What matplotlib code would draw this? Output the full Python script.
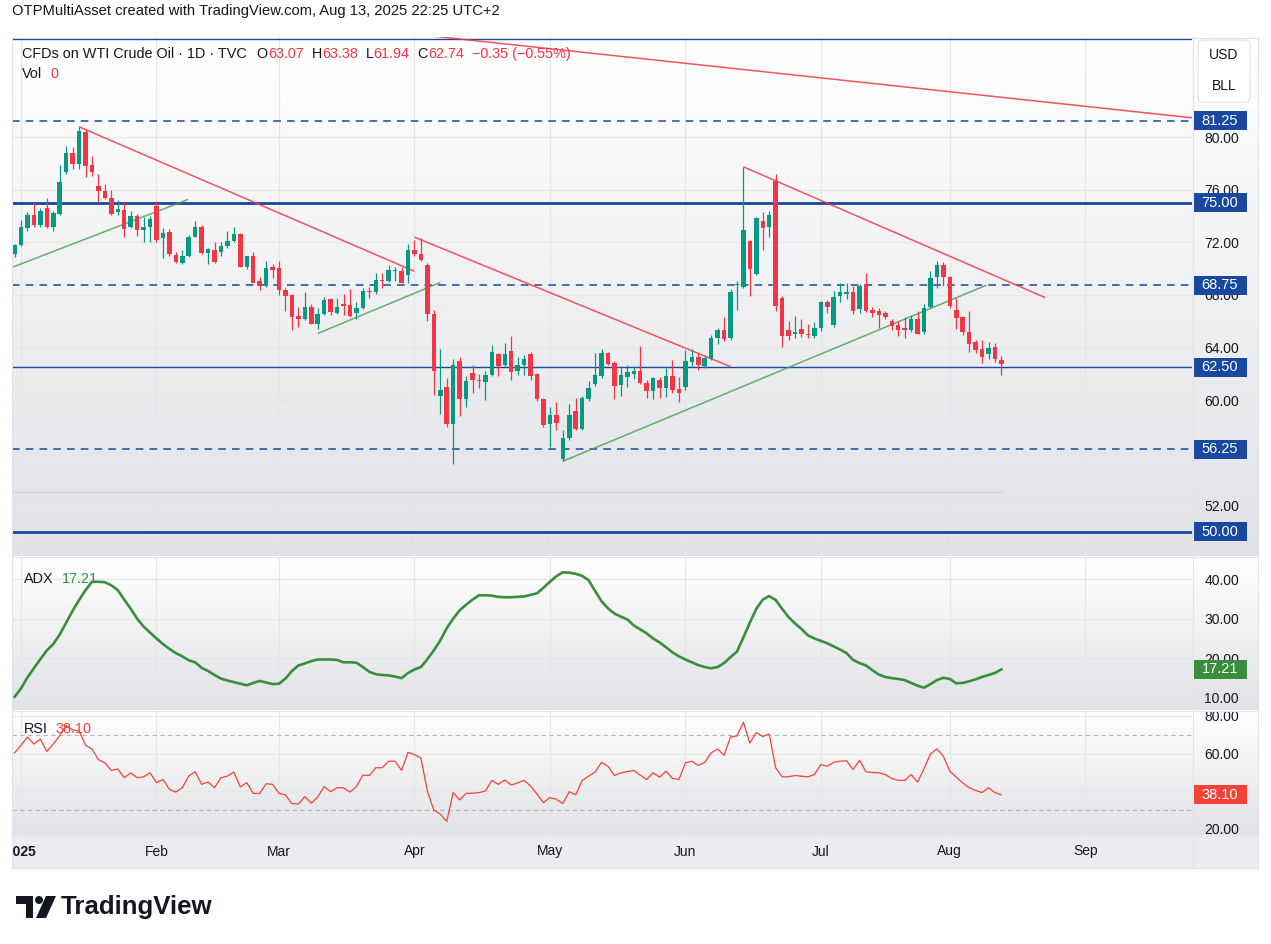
import numpy as np
import matplotlib
matplotlib.use("Agg")
import matplotlib.pyplot as plt
from matplotlib.colors import LinearSegmentedColormap
from matplotlib.patches import Rectangle, FancyBboxPatch, Circle, Polygon
from matplotlib.lines import Line2D
from matplotlib.transforms import Affine2D

plt.rcParams['font.family'] = ['Liberation Sans', 'DejaVu Sans']

# daily bars, Dec 31 2024 .. Aug 13 2025 (bar -1 is Dec 31)
opens = [71.1, 71.8, 73.1, 74.1, 73.3, 74.6, 73.2, 74.2, 77.35, 78.8, 78.0, 80.4, 77.9, 76.3, 75.9, 75.4,
         74.3, 74.5, 73.15, 74.0, 72.95, 73.15, 74.8, 72.3, 72.8, 71.05, 70.45, 71.0, 72.45, 73.2, 71.2,
         71.4, 71.25, 71.7, 72.1, 72.65, 70.1, 70.95, 69.1, 68.65, 70.15, 70.05, 68.4, 68.0, 66.4, 66.2,
         67.1, 65.8, 66.55, 67.7, 66.6, 67.3, 67.25, 66.6, 67.0, 68.3, 68.25, 69.15, 69.1, 69.8, 69.85,
         69.55, 71.4, 71.1, 70.25, 66.55, 60.35, 61.0, 58.2, 62.95, 60.1, 62.1, 61.55, 61.4, 61.9, 63.5,
         62.7, 63.75, 62.25, 62.7, 63.5, 61.97, 60.1, 58.2, 58.9, 55.55, 57.1, 59.15, 57.8, 60.05, 61.25,
         61.85, 63.55, 62.85, 61.15, 61.75, 62.0, 62.2, 61.3, 60.7, 61.5, 60.95, 61.8, 60.85, 61.0, 62.9,
         63.3, 62.6, 63.1, 64.75, 65.35, 64.7, 68.75, 68.6, 72.1, 69.6, 73.6, 73.15, 76.7, 67.75, 65.3,
         65.0, 65.45, 65.0, 64.85, 65.5, 67.45, 65.7, 67.9, 68.05, 68.25, 66.9, 68.8, 66.85, 66.8, 66.65,
         66.0, 65.7, 65.5, 65.35, 66.15, 65.15, 67.1, 69.35, 70.3, 69.4, 66.85, 66.3, 65.2, 64.4, 63.9,
         63.5, 64.05, 63.07]
highs = [71.9, 73.7, 74.35, 75.0, 74.6, 75.4, 74.4, 77.9, 79.3, 79.25, 80.8, 80.65, 78.6, 77.2, 76.45, 76.0,
         75.25, 75.1, 74.4, 74.2, 73.9, 74.0, 75.15, 73.1, 73.0, 71.3, 71.4, 72.6, 73.65, 73.3, 71.6,
         72.05, 72.05, 72.9, 73.15, 72.75, 71.0, 71.3, 69.4, 70.55, 70.35, 70.6, 68.5, 68.1, 67.1, 68.25,
         67.3, 67.0, 67.85, 67.8, 67.8, 68.05, 68.45, 67.5, 68.55, 68.6, 69.7, 69.65, 70.3, 70.1, 70.1,
         71.85, 72.15, 72.3, 70.4, 66.85, 63.9, 61.7, 63.1, 63.3, 61.85, 62.65, 62.0, 62.25, 64.2, 63.6,
         64.35, 64.85, 63.25, 63.45, 63.66, 62.1, 60.2, 59.45, 59.85, 57.7, 59.7, 60.2, 60.3, 61.45, 63.55,
         63.9, 63.7, 62.95, 62.6, 62.7, 62.6, 64.1, 61.5, 61.75, 61.75, 62.45, 63.05, 61.75, 63.8, 63.9,
         63.6, 63.4, 64.95, 65.5, 66.3, 68.45, 69.05, 77.75, 72.2, 73.95, 74.3, 74.4, 77.2, 67.9, 66.05,
         66.4, 66.15, 65.8, 65.95, 67.55, 67.6, 68.3, 68.9, 68.95, 68.65, 68.8, 69.65, 67.1, 67.0, 66.8,
         66.2, 66.0, 66.3, 66.5, 66.8, 67.3, 69.8, 70.55, 70.5, 69.45, 67.75, 66.4, 66.8, 64.6, 64.55,
         64.45, 64.35, 63.38]
lows = [70.9, 71.7, 72.9, 73.2, 73.2, 73.1, 72.9, 74.1, 77.2, 77.6, 77.6, 77.0, 77.05, 75.1, 75.3, 74.1,
        74.1, 72.45, 73.1, 72.5, 72.05, 72.0, 72.05, 70.8, 71.0, 70.4, 70.35, 70.9, 72.4, 71.1, 70.35,
        70.4, 70.95, 71.6, 72.0, 70.1, 70.0, 68.9, 68.4, 68.6, 69.3, 68.0, 66.8, 65.3, 65.6, 66.1,
        65.8, 65.45, 66.5, 66.5, 66.55, 66.45, 66.3, 66.15, 66.9, 67.75, 68.05, 68.55, 69.0, 69.1, 68.9,
        68.95, 71.0, 70.55, 66.0, 60.4, 58.95, 57.95, 55.15, 58.8, 59.5, 60.55, 60.95, 60.0, 61.8, 61.8,
        62.6, 61.5, 61.9, 61.9, 61.5, 59.95, 57.95, 56.4, 57.7, 55.4, 57.0, 57.7, 57.7, 59.9, 61.05,
        61.7, 62.65, 60.1, 60.3, 61.0, 61.6, 61.2, 60.2, 60.1, 60.2, 60.25, 60.55, 59.85, 60.8, 62.5,
        62.3, 62.45, 63.05, 64.25, 64.5, 64.6, 66.85, 68.5, 67.95, 69.5, 71.4, 72.45, 66.75, 64.05, 64.6,
        64.75, 64.8, 64.7, 64.7, 65.25, 66.65, 65.55, 67.45, 67.7, 66.55, 66.6, 66.7, 66.3, 65.5, 66.2,
        65.3, 64.9, 64.75, 65.2, 65.0, 65.0, 67.0, 68.5, 68.65, 67.0, 65.4, 64.95, 63.65, 63.6, 62.8,
        63.1, 62.9, 61.94]
closes = [71.8, 73.15, 74.05, 73.35, 74.4, 73.2, 74.25, 76.6, 78.8, 78.0, 80.5, 77.85, 77.35, 75.9, 75.4, 74.2,
          74.55, 73.0, 74.0, 72.95, 73.2, 73.8, 72.2, 72.7, 71.1, 70.5, 71.0, 72.45, 73.2, 71.2, 71.5,
          70.5, 71.75, 72.1, 72.65, 70.15, 70.95, 68.95, 68.7, 70.05, 69.9, 68.4, 67.95, 66.3, 66.15, 67.05,
          65.8, 66.55, 67.65, 66.7, 67.1, 67.2, 66.4, 67.0, 68.3, 68.2, 69.15, 69.05, 69.9, 69.85, 68.95,
          71.4, 71.1, 70.65, 66.55, 62.25, 60.8, 58.15, 62.7, 60.1, 61.45, 61.5, 61.45, 61.9, 63.65, 62.6,
          63.5, 62.15, 62.7, 63.1, 61.8, 60.05, 58.1, 58.9, 58.25, 57.1, 58.9, 57.8, 60.2, 60.95, 61.9,
          63.55, 62.75, 61.05, 61.9, 62.15, 62.2, 61.3, 60.7, 61.65, 60.95, 61.8, 60.75, 60.55, 62.95, 63.3,
          62.65, 63.2, 64.75, 65.35, 64.65, 68.25, 68.8, 72.95, 70.0, 73.85, 73.1, 74.05, 67.2, 64.9, 64.85,
          65.2, 65.0, 64.95, 65.5, 67.5, 67.05, 67.85, 68.2, 68.25, 66.8, 68.7, 66.75, 66.6, 66.5, 66.35,
          65.65, 65.35, 65.35, 66.15, 65.05, 67.0, 69.3, 70.3, 69.35, 67.2, 66.25, 65.15, 64.25, 63.8, 63.3,
          63.95, 63.1, 62.74]
adx = [10.3, 12.4, 15.2, 17.5, 19.8, 22.0, 23.6, 26.0, 29.0, 32.0, 34.7, 37.2, 39.3, 39.3, 39.2, 38.4,
       37.2, 34.8, 32.5, 30.0, 28.0, 26.5, 25.0, 23.6, 22.4, 21.3, 20.5, 19.5, 19.0, 17.6, 16.8, 15.8,
       14.9, 14.4, 14.0, 13.6, 13.2, 13.8, 14.3, 13.9, 13.5, 13.6, 14.9, 16.8, 18.2, 18.7, 19.3, 19.7,
       19.7, 19.7, 19.6, 19.0, 19.0, 18.9, 17.8, 16.6, 16.0, 15.8, 15.7, 15.4, 15.0, 16.3, 17.2, 17.8,
       19.8, 22.0, 24.5, 27.6, 30.0, 32.1, 33.5, 34.8, 35.9, 35.9, 35.8, 35.5, 35.4, 35.4, 35.5, 35.6,
       36.0, 36.4, 37.8, 39.3, 40.7, 41.7, 41.6, 41.3, 40.8, 39.7, 37.0, 34.4, 32.6, 31.3, 30.5, 29.8,
       28.3, 27.3, 26.3, 25.0, 24.0, 22.8, 21.5, 20.5, 19.7, 19.0, 18.3, 17.8, 17.5, 17.8, 18.8, 20.3,
       21.7, 25.3, 29.0, 32.5, 34.8, 35.7, 34.7, 32.5, 30.4, 28.8, 27.4, 25.8, 25.0, 24.4, 23.8, 23.0,
       22.2, 21.3, 19.6, 18.8, 18.2, 17.0, 15.9, 15.3, 15.0, 14.8, 14.5, 13.8, 13.1, 12.6, 13.5, 14.5,
       15.1, 14.8, 13.7, 13.8, 14.2, 14.7, 15.3, 15.8, 16.3, 17.21]
rsi = [60.4, 64.5, 68.8, 65.1, 67.7, 61.2, 65.1, 69.6, 74.9, 72.6, 72.1, 64.4, 62.5, 56.8, 55.1, 51.1,
       51.9, 47.2, 49.8, 47.2, 47.7, 49.8, 44.6, 46.3, 41.1, 39.6, 41.9, 48.1, 50.4, 43.7, 44.9, 41.9,
       47.2, 48.1, 50.2, 42.3, 44.6, 38.9, 38.8, 44.0, 43.7, 38.9, 38.1, 33.5, 33.2, 37.2, 33.7, 37.0,
       42.5, 39.8, 41.9, 41.9, 39.6, 42.5, 48.6, 48.4, 52.5, 52.5, 56.0, 56.0, 51.1, 60.7, 59.5, 57.7,
       40.2, 30.0, 27.9, 24.0, 39.3, 35.4, 38.9, 39.0, 39.3, 40.2, 45.8, 43.7, 46.0, 43.3, 44.5, 45.8,
       42.8, 38.5, 34.0, 36.7, 35.8, 33.5, 39.8, 38.1, 45.8, 48.0, 50.2, 55.4, 53.3, 48.4, 49.8, 50.5,
       51.1, 48.6, 46.3, 49.8, 47.5, 50.7, 46.8, 46.3, 55.1, 56.0, 53.7, 55.4, 60.4, 62.5, 59.1, 68.8,
       69.5, 76.7, 65.6, 71.2, 69.1, 70.4, 52.5, 47.7, 47.7, 48.4, 48.0, 47.7, 48.9, 54.2, 53.3, 55.4,
       56.0, 56.2, 51.6, 56.5, 50.4, 50.0, 49.8, 48.9, 46.8, 45.8, 45.8, 48.9, 44.9, 52.0, 59.8, 62.6,
       58.6, 50.7, 47.5, 44.5, 41.9, 40.5, 39.3, 41.9, 39.3, 38.1]

month_labels = ['2025', 'Feb', 'Mar', 'Apr', 'May', 'Jun', 'Jul', 'Aug', 'Sep']
month_bars = [0, 21, 40, 61, 82, 103, 124, 144, 165]

levels = [87.5, 81.25, 75.0, 68.75, 62.5, 56.25, 50.0]
level_kind = ['thin', 'dash', 'thick', 'dash', 'thin', 'dash', 'thick']
support_dotted = 53.0

# trend lines as (bar, price) pairs
red_lines = [[(60, 87.9), (185, 81.3)],
             [(9, 80.8), (61, 69.8)],
             [(61, 72.4), (110, 62.55)],
             [(112, 77.75), (158.8, 67.8)]]
green_lines = [[(-1.4, 70.1), (25.9, 75.27)],
               [(46, 65.07), (65, 68.95)],
               [(84, 55.35), (149.7, 68.75)]]

main_grid = [52, 56, 60, 64, 68, 72, 76, 80]
main_labels = [52, 60, 64, 68, 72, 76, 80]
adx_grid = [10, 20, 30, 40]
rsi_grid = [20, 40, 60, 80]
rsi_labels = [20, 60, 80]

UP = '#089981'
DOWN = '#f23645'
BLUE = '#1848a0'
TXT = '#131722'
GRID = '#e4e6eb'

W, H = 1271, 944
fig = plt.figure(figsize=(W / 100, H / 100), dpi=100)
px = Affine2D().scale(1 / W, -1 / H).translate(0, 1) + fig.transFigure


def rect(x0, y0, x1, y1):
    return [x0 / W, 1 - y1 / H, (x1 - x0) / W, (y1 - y0) / H]


grad = LinearSegmentedColormap.from_list('g', ['#ffffff', '#e1e2e6'])
for y0, y1 in [(37, 556), (557, 710), (711, 835)]:
    bg = fig.add_axes(rect(12, y0, 1258, y1), zorder=0)
    bg.imshow(np.linspace(0, 1, 256).reshape(-1, 1), cmap=grad, aspect='auto', extent=[0, 1, 0, 1])
    bg.axis('off')
bgx = fig.add_axes(rect(12, 835, 1258, 868), zorder=0)
bgx.set_facecolor('#ebecef')
bgx.set_xticks([])
bgx.set_yticks([])
for s in bgx.spines.values():
    s.set_visible(False)

xl = (-1.4, 181.55)
x = np.arange(len(opens)) - 1
o, h, l, c = map(np.array, (opens, highs, lows, closes))
cols = np.where(c >= o, UP, DOWN)

ax = fig.add_axes(rect(12, 37, 1192, 556), zorder=1)
ax_adx = fig.add_axes(rect(12, 557, 1192, 710), zorder=1)
ax_rsi = fig.add_axes(rect(12, 711, 1192, 835), zorder=1)
ax_x = fig.add_axes(rect(12, 835, 1192, 868), zorder=1)

for a in (ax, ax_adx, ax_rsi, ax_x):
    a.set_facecolor('none')
    a.set_xlim(*xl)
    for s in a.spines.values():
        s.set_visible(False)
    a.set_xticks([])

ax.set_ylim(48.14, 87.63)
ax_adx.set_ylim(6.97, 45.55)
ax_rsi.set_ylim(16.8, 82.65)

for a, grid, labs in ((ax, main_grid, main_labels), (ax_adx, adx_grid, adx_grid), (ax_rsi, rsi_grid, rsi_labels)):
    a.yaxis.tick_right()
    a.set_yticks(labs)
    a.set_yticklabels(['%.2f' % t for t in labs])
    a.tick_params(axis='y', length=0, pad=9, labelsize=10, labelcolor=TXT)
    for t in grid:
        a.axhline(t, color=GRID, lw=0.8, zorder=0.5)
    for m in month_bars:
        a.axvline(m, color=GRID, lw=0.8, zorder=0.5)

# levels
for lv, kind in zip(levels, level_kind):
    if kind == 'dash':
        ax.axhline(lv, color=BLUE, lw=1.1, ls=(0, (5, 4)), zorder=2)
    elif kind == 'thick':
        ax.axhline(lv, color=BLUE, lw=2.0, zorder=2)
    else:
        ax.axhline(lv, color=BLUE, lw=1.0, zorder=2)
ax.hlines(support_dotted, -1.4, 152.3, color='#b2b5be', lw=0.8, ls=(0, (1, 1.5)), zorder=2)

for seg in red_lines:
    (x0, y0), (x1, y1) = seg
    ax.plot([x0, x1], [y0, y1], color=DOWN, lw=1.1, alpha=0.85, zorder=3, solid_capstyle='butt')
for seg in green_lines:
    (x0, y0), (x1, y1) = seg
    ax.plot([x0, x1], [y0, y1], color='#43a047', lw=1.1, alpha=0.8, zorder=3, solid_capstyle='butt')

# candles
ax.vlines(x, l, h, color=cols, lw=0.9, zorder=4)
body = np.maximum(np.abs(c - o), 0.07)
ax.bar(x, body, bottom=np.minimum(o, c), width=0.7, color=cols, zorder=5, linewidth=0)

# indicators
ax_adx.plot(x, adx, color='#388e3c', lw=1.9, zorder=3, solid_joinstyle='round')
for lv in (70, 30):
    ax_rsi.axhline(lv, color='#b2b5be', lw=0.8, ls=(0, (4, 3)), zorder=1)
ax_rsi.plot(x, rsi, color='#f44336', lw=0.9, zorder=3)


def value_box(a, val, text, color, unit_px):
    hgt = 19 / unit_px
    tr = a.get_yaxis_transform()
    a.add_patch(Rectangle((1.0008, val - hgt / 2), 54 / 1180, hgt, transform=tr, facecolor=color,
                          edgecolor='none', clip_on=False, zorder=6))
    a.text(1.0008 + 27 / 1180, val, text, transform=tr, color='white', fontsize=10.5, ha='center',
           va='center', clip_on=False, zorder=7)


for lv in levels[1:]:
    value_box(ax, lv, '%.2f' % lv, BLUE, 13.15)
value_box(ax_adx, adx[-1], '%.2f' % adx[-1], '#388e3c', 3.967)
value_box(ax_rsi, rsi[-1], '%.2f' % rsi[-1], '#f44336', 1.883)

# month labels
ax_x.set_ylim(0, 1)
ax_x.set_yticks([])
for lab, m in zip(month_labels, month_bars):
    ax_x.text(m, 0.5, lab, ha='center', va='center', fontsize=10, color=TXT,
              fontweight='bold' if lab == '2025' else 'normal', clip_on=True)

# frame lines
for (x0, y0, x1, y1) in [(12, 556.5, 1258, 556.5), (12, 710.5, 1258, 710.5), (12, 835.5, 1258, 835.5),
                         (1192.5, 37, 1192.5, 868), (1258, 37, 1258, 868), (12, 868, 1258, 868),
                         (12, 37, 12, 868)]:
    fig.add_artist(Line2D([x0, x1], [y0, y1], transform=px, color='#e0e3eb', lw=0.8))
fig.add_artist(Line2D([1192, 1258], [37.5, 37.5], transform=px, color='#e0e3eb', lw=0.8))

# currency box
fig.add_artist(FancyBboxPatch((1198, 40), 52, 62, boxstyle='round,pad=0,rounding_size=5', transform=px,
                              facecolor='white', edgecolor='#e0e3eb', lw=0.8))
fig.text(1224 / W, 1 - 55 / H, 'USD', ha='center', va='center', fontsize=10, color=TXT)
fig.text(1224 / W, 1 - 86 / H, 'BLL', ha='center', va='center', fontsize=10, color=TXT)

renderer = fig.canvas.get_renderer()


def text_run(x0, y0, pieces, size=10):
    xx = x0
    for s, col, gap in pieces:
        t = fig.text(xx / W, 1 - y0 / H, s, color=col, fontsize=size, ha='left', va='center')
        xx += t.get_window_extent(renderer=renderer).width + gap


fig.text(12 / W, 1 - 11 / H, 'OTPMultiAsset created with TradingView.com, Aug 13, 2025 22:25 UTC+2',
         fontsize=10.6, color=TXT, ha='left', va='center')
text_run(22, 54, [('CFDs on WTI Crude Oil · 1D · TVC', TXT, 10), ('O', TXT, 0), ('%.2f' % opens[-1], DOWN, 8),
                  ('H', TXT, 0), ('%.2f' % highs[-1], DOWN, 8), ('L', TXT, 0), ('%.2f' % lows[-1], DOWN, 8),
                  ('C', TXT, 0), ('%.2f' % closes[-1], DOWN, 8),
                  ('\u22120.35 (\u22120.55%)', DOWN, 0)], size=10.4)
text_run(22, 74, [('Vol', TXT, 8), ('0', DOWN, 0)], size=10.4)
text_run(24, 579, [('ADX', TXT, 8), ('%.2f' % adx[-1], '#388e3c', 0)], size=10.4)
text_run(24, 729, [('RSI', TXT, 8), ('%.2f' % rsi[-1], '#f44336', 0)], size=10.4)

# TradingView logo
fig.add_artist(Polygon([(16, 896), (33, 896), (33, 918), (26, 918), (26, 904), (16, 904)], closed=True,
                       transform=px, facecolor=TXT, edgecolor='none'))
fig.add_artist(Circle((39, 900), 4.0, transform=px, facecolor=TXT, edgecolor='none'))
fig.add_artist(Polygon([(46, 896), (56, 896), (46, 918), (36, 918)], closed=True, transform=px,
                       facecolor=TXT, edgecolor='none'))
fig.text(61 / W, 1 - 907 / H, 'TradingView', fontsize=18.6, fontweight='bold', color=TXT, ha='left',
         va='center')

fig.savefig('out.png', dpi=100, facecolor='white')
